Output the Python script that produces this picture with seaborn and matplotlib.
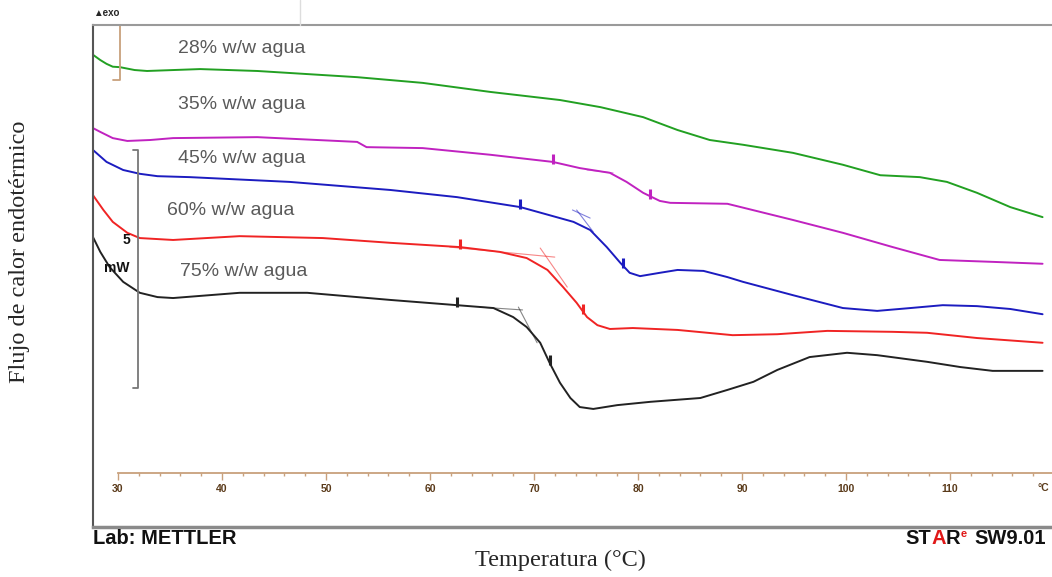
import numpy as np
import pandas as pd
import seaborn as sns
import matplotlib.pyplot as plt
from matplotlib.lines import Line2D
from matplotlib.transforms import Bbox, TransformedBbox

sns.set_theme(style='white')
plt.rcParams['font.family'] = ['Liberation Sans', 'DejaVu Sans']

t_28 = [27.6, 28.3, 28.9, 29.5, 30.2, 31.6, 32.8, 37.9, 43.4, 53.0, 59.3, 65.8, 72.5, 76.4, 80.5, 83.8,
        86.9, 90.1, 94.9, 99.7, 103.3, 107.1, 109.7, 112.6, 115.8, 118.9]
hf_28 = [9.92, 9.81, 9.73, 9.67, 9.66, 9.60, 9.58, 9.62, 9.58, 9.45, 9.33, 9.14, 8.97, 8.82, 8.61, 8.34,
         8.13, 8.03, 7.86, 7.61, 7.39, 7.35, 7.25, 7.02, 6.72, 6.51]

t_35 = [27.6, 28.3, 29.5, 30.9, 33.1, 35.3, 43.4, 53.0, 53.9, 59.3, 65.8, 71.8, 74.4, 77.3, 78.9, 80.5,
        82.1, 83.1, 88.6, 94.9, 99.7, 104.5, 109.0, 114.1, 118.9]
hf_35 = [8.38, 8.30, 8.17, 8.11, 8.13, 8.17, 8.19, 8.09, 7.98, 7.96, 7.82, 7.67, 7.54, 7.44, 7.25, 7.02,
         6.85, 6.81, 6.79, 6.45, 6.18, 5.88, 5.61, 5.57, 5.53]

t_45 = [27.6, 28.9, 30.5, 32.1, 33.8, 36.9, 46.5, 56.2, 62.6, 68.7, 71.5, 73.8, 75.4, 77.0, 78.3, 79.2,
        80.2, 82.1, 83.8, 86.3, 88.6, 90.1, 94.9, 99.7, 103.0, 106.2, 109.3, 112.6, 115.8, 118.9]
hf_45 = [7.92, 7.67, 7.50, 7.42, 7.37, 7.35, 7.25, 7.08, 6.93, 6.72, 6.55, 6.41, 6.24, 5.88, 5.55, 5.34,
         5.27, 5.34, 5.40, 5.38, 5.25, 5.15, 4.87, 4.60, 4.54, 4.60, 4.66, 4.64, 4.58, 4.47]

t_60 = [27.6, 28.6, 29.5, 30.9, 32.1, 35.3, 41.7, 49.7, 56.2, 62.9, 66.7, 69.3, 71.3, 72.8, 74.1, 75.1,
        76.1, 77.3, 79.5, 83.8, 89.1, 93.4, 98.2, 104.5, 107.8, 112.6, 118.9]
hf_60 = [6.97, 6.66, 6.41, 6.18, 6.07, 6.03, 6.11, 6.07, 5.97, 5.88, 5.78, 5.65, 5.40, 5.04, 4.71, 4.41,
         4.24, 4.16, 4.18, 4.14, 4.03, 4.05, 4.12, 4.10, 4.08, 3.97, 3.87]

t_75 = [27.6, 28.3, 29.2, 30.5, 32.1, 33.8, 35.3, 41.7, 48.2, 56.2, 62.6, 66.1, 68.0, 69.3, 70.6, 71.5,
        72.5, 73.5, 74.4, 75.7, 78.0, 81.2, 86.0, 88.6, 91.1, 93.4, 96.5, 100.1, 103.0, 107.8, 111.0,
        114.1, 118.9]
hf_75 = [6.09, 5.78, 5.46, 5.15, 4.92, 4.83, 4.81, 4.92, 4.92, 4.77, 4.66, 4.60, 4.41, 4.20, 3.87, 3.45,
         3.03, 2.71, 2.52, 2.48, 2.56, 2.63, 2.71, 2.88, 3.05, 3.30, 3.57, 3.66, 3.61, 3.47, 3.36,
         3.28, 3.28]

muestras = ['28% w/w agua', '35% w/w agua', '45% w/w agua', '60% w/w agua', '75% w/w agua']
colores = ['#22a022', '#c022c0', '#1c1cc0', '#f02424', '#222222']
temps = [t_28, t_35, t_45, t_60, t_75]
flujos = [hf_28, hf_35, hf_45, hf_60, hf_75]

# marcas de onset / punto medio (°C)
marcas = [[], [71.8, 81.2], [68.7, 78.6], [62.9, 74.7], [62.6, 71.5]]

# rectas tangentes (T1, T2, HF1, HF2)
tangentes = [
    ('#c022c0', [75.1, 77.6], [7.50, 7.44]),
    ('#1c1cc0', [73.7, 75.4], [6.66, 6.49]),
    ('#1c1cc0', [74.1, 75.7], [6.66, 6.20]),
    ('#f02424', [61.9, 72.0], [5.88, 5.67]),
    ('#f02424', [70.6, 73.2], [5.86, 5.04]),
    ('#222222', [64.8, 68.9], [4.62, 4.56]),
    ('#222222', [68.5, 70.3], [4.62, 3.87]),
]

# posicion de las etiquetas (T, HF)
etiqueta_t = [35.8, 35.8, 35.8, 34.7, 36.0]
etiqueta_hf = [10.06, 8.87, 7.75, 6.64, 5.36]

frames = []
for m, t, hf in zip(muestras, temps, flujos):
    frames.append(pd.DataFrame({'T': t, 'HF': hf, 'muestra': m}))
df = pd.concat(frames, ignore_index=True)

W, H = 1052, 577
fig = plt.figure(figsize=(W / 100, H / 100), dpi=100)
ax = fig.add_axes([93 / W, 50 / H, 971.4 / W, 502 / H])

sns.lineplot(data=df, x='T', y='HF', hue='muestra', palette=dict(zip(muestras, colores)),
             estimator=None, sort=False, legend=False, linewidth=1.4, ax=ax,
             solid_joinstyle='round', solid_capstyle='round')

for col, tt, hh in tangentes:
    ax.plot(tt, hh, color=col, lw=0.8, alpha=0.55)

for m, t, hf, col, mk in zip(muestras, temps, flujos, colores, marcas):
    if mk:
        ax.plot(mk, np.interp(mk, t, hf) + 0.06, ls='none', marker='|', ms=7, mew=2.2, color=col)

for m, x, y in zip(muestras, etiqueta_t, etiqueta_hf):
    ax.text(x, y, m, fontsize=14, color='#5a5a5a', va='center', ha='left')

# barra de escala 5 mW
escala = 5
ax.plot([31.4, 31.9, 31.9, 31.4], [2.92 + escala, 2.92 + escala, 2.92, 2.92], color='#777777', lw=1.3)
ax.text(30.8, 6.03, '5', fontsize=10, fontweight='bold', ha='center', va='center', color='#111111')
ax.text(29.9, 5.44, 'mW', fontsize=10, fontweight='bold', ha='center', va='center', color='#111111')
ax.plot([30.2, 30.2, 29.5], [10.55, 9.39, 9.39], color='#c8a07c', lw=1.3)

ax.set_xlim(27.6, 121)
ax.set_ylim(0, 10.546)
ax.set_xticks([])
ax.set_yticks([])
ax.set_xlabel('')
ax.set_ylabel('')
ax.spines['right'].set_visible(False)
ax.spines['left'].set_color('#555555')
ax.spines['left'].set_linewidth(1.5)
ax.spines['bottom'].set_color('#8a8a8a')
ax.spines['bottom'].set_linewidth(2.5)
ax.spines['top'].set_color('#9a9a9a')
ax.spines['top'].set_linewidth(1.5)

# eje de temperatura del equipo
tan = '#c8a07c'
sec = ax.secondary_xaxis(54 / 502)
sec.spines['bottom'].set_bounds(30, 121)
sec.spines['bottom'].set_color(tan)
sec.spines['bottom'].set_linewidth(1.3)
sec.set_ticks([30, 40, 50, 60, 70, 80, 90, 100, 110],
              labels=['30', '40', '50', '60', '70', '80', '90', '100', '110'],
              fontweight='bold')
sec.set_ticks(np.arange(32, 122, 2), minor=True)
sec.tick_params(which='both', bottom=True, direction='out', color=tan, width=1)
sec.tick_params(which='major', length=5, labelsize=7.5, labelcolor='#5a3a1a', pad=3)
sec.tick_params(which='minor', length=2.5)
fig.text(1038 / W, 1 - 488 / H, '°C', fontsize=7.5, fontweight='bold', color='#5a3a1a',
         va='center', ha='left')

fig.text(93 / W, 1 - 13 / H, '▲exo', fontsize=7, fontweight='bold', va='center', ha='left')
fig.add_artist(Line2D([300 / W, 300 / W], [1, 1 - 25 / H], color='#dddddd', lw=1))

clip = TransformedBbox(Bbox([[0, 1 - 546 / H], [1, 1]]), fig.transFigure)
pie = [
    (93, 'Lab: METTLER', '#111111', 14.5, 539),
    (905, 'ST', '#111111', 14.5, 539),
    (931, 'A', '#e01818', 14.5, 539),
    (946, 'R', '#111111', 14.5, 539),
    (961, 'e', '#e01818', 8, 534),
    (974, 'SW9.01', '#111111', 14.5, 539),
]
for x, s, c, fs, y in pie:
    t = fig.text(x / W, 1 - y / H, s, color=c, fontsize=fs, fontweight='bold', va='center', ha='left')
    t.set_clip_box(clip)
    t.set_clip_on(True)

fig.text(560 / W, 1 - 560 / H, 'Temperatura (°C)', fontsize=17.5, family='Liberation Serif',
         ha='center', va='center')
fig.text(20 / W, 1 - 252 / H, 'Flujo de calor endotérmico', fontsize=17.5, family='Liberation Serif',
         ha='center', va='center', rotation=90)

fig.savefig('out.png', dpi=100)
